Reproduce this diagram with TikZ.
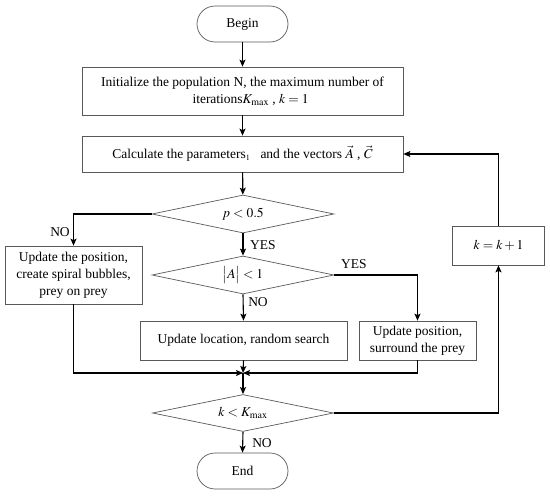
\documentclass[tikz,border=0pt]{standalone}
\usepackage{mathptmx}
\usepackage[no-math]{fontspec}
\setmainfont{Liberation Serif}
\usetikzlibrary{shapes.geometric,arrows.meta,calc}
\tikzset{
  box/.style={draw=black!65, line width=0.7pt, rectangle, align=center, inner sep=2pt, font=\fontsize{13.5}{17}\selectfont},
  term/.style={box, rounded corners=18pt, minimum width=91pt, minimum height=36pt},
  dia/.style={draw=black!65, line width=0.7pt, diamond, inner sep=0pt, aspect=4.8, font=\fontsize{13.5}{17}\selectfont},
  flow/.style={draw=black, line width=1.1pt, -{Stealth[length=7pt,width=6pt,inset=1.5pt]}},
  lab/.style={font=\fontsize{13.5}{17}\selectfont, inner sep=0pt}
}
\begin{document}
\begin{tikzpicture}[x=1pt,y=-1pt]
\useasboundingbox (0,0) rectangle (550,498);
\node[term] (begin) at (242.5,24) {Begin};
\node[box, minimum width=321pt, minimum height=48pt] (init) at (242.5,91)
  {Initialize the population N, the maximum number of\\ \hspace*{1.2em}iterations$K_{\max}$ , $k=1$};
\node[box, minimum width=321pt, minimum height=36pt] (calc) at (242.5,154)
  {Calculate the parameters$_{\scriptscriptstyle 1}$\ \ \ and the vectors $\vec{A}$ , $\vec{C}$};
\node[dia, minimum width=182pt, minimum height=38pt] (d1) at (243,214) {$p<0.5$};
\node[box, minimum width=137pt, minimum height=58pt] (left) at (73.5,275)
  {Update the position,\\ create spiral bubbles,\\ prey on prey};
\node[dia, minimum width=182pt, minimum height=38pt] (d2) at (243,275) {$\bigl|A\bigr|<1$};
\node[box, minimum width=207pt, minimum height=39pt] (rand) at (243.5,340.5)
  {Update location, random search};
\node[box, minimum width=117pt, minimum height=39pt] (surr) at (417.5,340.5)
  {Update position,\\ surround the prey};
\node[box, minimum width=92pt, minimum height=39pt] (kinc) at (498.5,245.5) {$k=k+1$};
\coordinate (m) at (243,373);
\node[dia, minimum width=181pt, minimum height=37pt] (d3) at (243,413) {$k<K_{\max}$};
\node[term] (end) at (242.5,471) {End};

\draw[flow] (begin) -- (init);
\draw[flow] (init) -- (calc);
\draw[flow] (calc) -- (d1);
\draw[flow] (d1.west) -| (left.north);
\draw[flow] (d1.south) -- (d2.north);
\draw[flow] (d2.east) -| (surr.north);
\draw[flow] (d2.south) -- (rand.north);
\draw[flow] (left.south) |- (m);
\draw[flow] (surr.south) |- (m);
\draw[flow] (rand.south) -- (m);
\draw[flow] (m) -- (d3.north);
\draw[flow] (d3.east) -| (kinc.south);
\draw[flow] (kinc.north) |- (calc.east);
\draw[flow] (d3.south) -- (end.north);

\node[lab] (no1) at (60,232) {NO};
\node[lab] (yes1) at (263,245) {YES};
\node[lab] (yes2) at (354,264) {YES};
\node[lab] (no2) at (258,302) {NO};
\node[lab] (no3) at (262,443) {NO};
\end{tikzpicture}
\end{document}
